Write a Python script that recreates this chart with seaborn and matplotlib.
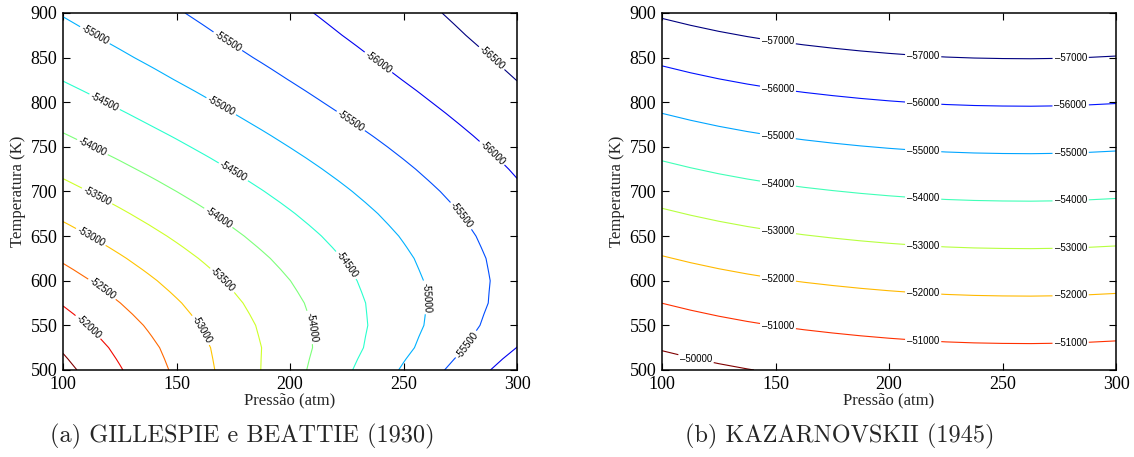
import numpy as np
import matplotlib
matplotlib.use("Agg")
import matplotlib.pyplot as plt
import seaborn as sns

# ---------------- data: (a) GILLESPIE e BEATTIE (1930) ----------------
pressure_gb = [100, 112.5, 125, 137.5, 150, 162.5, 175, 187.5, 200,
               212.5, 225, 237.5, 250, 262.5, 275, 287.5, 300]
temp_gb = [500, 512.5, 525, 537.5, 550, 562.5, 575, 587.5, 600, 612.5, 625, 637.5,
           650, 662.5, 675, 687.5, 700, 712.5, 725, 737.5, 750, 762.5, 775, 787.5,
           800, 812.5, 825, 837.5, 850, 862.5, 875, 887.5, 900]
dh_gb = [
    [-51349, -51657, -51966, -52275, -52584, -52893, -53201, -53510, -53819, -54128, -54437, -54745, -55054, -55363, -55672, -55981, -56289],
    [-51451, -51744, -52038, -52332, -52625, -52919, -53212, -53506, -53800, -54093, -54387, -54680, -54974, -55268, -55561, -55855, -56148],
    [-51552, -51831, -52109, -52388, -52666, -52945, -53223, -53501, -53780, -54058, -54337, -54615, -54893, -55172, -55450, -55729, -56007],
    [-51668, -51934, -52199, -52465, -52731, -52997, -53262, -53528, -53794, -54059, -54325, -54591, -54856, -55122, -55388, -55654, -55919],
    [-51783, -52036, -52289, -52542, -52795, -53048, -53301, -53554, -53807, -54060, -54313, -54566, -54819, -55072, -55325, -55578, -55831],
    [-51908, -52150, -52392, -52634, -52877, -53119, -53361, -53603, -53846, -54088, -54330, -54572, -54814, -55057, -55299, -55541, -55783],
    [-52032, -52263, -52495, -52726, -52958, -53189, -53421, -53652, -53884, -54115, -54347, -54578, -54809, -55041, -55272, -55504, -55735],
    [-52162, -52384, -52607, -52829, -53052, -53274, -53496, -53718, -53941, -54163, -54385, -54607, -54830, -55052, -55274, -55497, -55719],
    [-52292, -52505, -52719, -52932, -53145, -53358, -53571, -53784, -53997, -54210, -54423, -54636, -54850, -55063, -55276, -55489, -55702],
    [-52426, -52631, -52836, -53042, -53247, -53452, -53657, -53862, -54067, -54273, -54478, -54683, -54889, -55094, -55299, -55504, -55709],
    [-52559, -52756, -52953, -53151, -53348, -53545, -53743, -53940, -54137, -54335, -54532, -54729, -54927, -55124, -55321, -55519, -55716],
    [-52693, -52883, -53074, -53265, -53455, -53645, -53836, -54027, -54217, -54408, -54598, -54789, -54979, -55170, -55360, -55551, -55741],
    [-52827, -53010, -53194, -53378, -53562, -53745, -53929, -54113, -54296, -54480, -54664, -54848, -55031, -55215, -55399, -55582, -55766],
    [-52960, -53138, -53316, -53494, -53671, -53849, -54027, -54205, -54382, -54560, -54738, -54916, -55093, -55271, -55449, -55626, -55804],
    [-53093, -53265, -53437, -53609, -53780, -53952, -54124, -54296, -54468, -54640, -54811, -54983, -55155, -55327, -55499, -55670, -55842],
    [-53224, -53391, -53557, -53724, -53890, -54057, -54224, -54390, -54557, -54724, -54890, -55057, -55223, -55390, -55557, -55723, -55890],
    [-53354, -53516, -53677, -53839, -54000, -54162, -54323, -54484, -54646, -54807, -54969, -55130, -55291, -55453, -55614, -55776, -55937],
    [-53481, -53639, -53795, -53952, -54109, -54266, -54423, -54579, -54736, -54893, -55050, -55207, -55363, -55521, -55677, -55834, -55991],
    [-53608, -53761, -53913, -54065, -54217, -54370, -54522, -54674, -54826, -54979, -55131, -55283, -55435, -55588, -55740, -55892, -56045],
    [-53731, -53879, -54027, -54175, -54323, -54472, -54620, -54768, -54916, -55065, -55213, -55361, -55509, -55658, -55806, -55954, -56102],
    [-53853, -53997, -54141, -54285, -54429, -54574, -54718, -54862, -55006, -55150, -55294, -55438, -55582, -55727, -55871, -56015, -56159],
    [-53970, -54110, -54251, -54391, -54532, -54672, -54813, -54953, -55094, -55234, -55375, -55515, -55656, -55797, -55937, -56077, -56218],
    [-54086, -54223, -54360, -54497, -54634, -54770, -54907, -55044, -55181, -55318, -55455, -55592, -55729, -55866, -56003, -56139, -56276],
    [-54196, -54330, -54464, -54597, -54731, -54864, -54998, -55132, -55265, -55399, -55533, -55667, -55800, -55934, -56068, -56201, -56335],
    [-54306, -54436, -54567, -54697, -54828, -54958, -55089, -55219, -55349, -55480, -55610, -55741, -55871, -56002, -56132, -56262, -56393],
    [-54409, -54536, -54664, -54791, -54919, -55046, -55174, -55302, -55429, -55557, -55684, -55812, -55939, -56067, -56194, -56322, -56449],
    [-54511, -54636, -54760, -54885, -55010, -55134, -55259, -55384, -55508, -55633, -55757, -55882, -56007, -56131, -56256, -56381, -56505],
    [-54606, -54728, -54850, -54972, -55094, -55216, -55338, -55460, -55582, -55704, -55826, -55948, -56070, -56192, -56314, -56436, -56558],
    [-54701, -54820, -54939, -55059, -55178, -55297, -55417, -55536, -55656, -55775, -55894, -56014, -56133, -56253, -56372, -56491, -56611],
    [-54787, -54904, -55021, -55138, -55255, -55372, -55489, -55606, -55723, -55840, -55957, -56074, -56191, -56308, -56425, -56542, -56659],
    [-54873, -54987, -55102, -55216, -55331, -55446, -55560, -55675, -55790, -55904, -56019, -56134, -56248, -56363, -56478, -56592, -56707],
    [-54950, -55062, -55175, -55287, -55399, -55512, -55624, -55737, -55850, -55962, -56075, -56187, -56299, -56412, -56525, -56637, -56750],
    [-55026, -55136, -55247, -55357, -55467, -55578, -55688, -55799, -55909, -56019, -56130, -56240, -56350, -56461, -56571, -56681, -56792],
]
levels_gb = [-56500, -56000, -55500, -55000, -54500, -54000, -53500, -53000, -52500, -52000, -51500]

# ---------------- data: (b) KAZARNOVSKII (1945) ----------------
pressure_kz = [100, 112.5, 125, 137.5, 150, 162.5, 175, 187.5, 200,
               212.5, 225, 237.5, 250, 262.5, 275, 287.5, 300]
temp_kz = [500, 550, 600, 650, 700, 750, 800, 850, 900]
dh_kz = [
    [-49594, -49739, -49867, -49977, -50073, -50152, -50220, -50280, -50331, -50374, -50408, -50429, -50440, -50444, -50436, -50417, -50387],
    [-50534, -50679, -50807, -50917, -51013, -51092, -51160, -51220, -51271, -51314, -51348, -51369, -51380, -51384, -51376, -51357, -51327],
    [-51474, -51619, -51747, -51857, -51953, -52032, -52100, -52160, -52211, -52254, -52288, -52309, -52320, -52324, -52316, -52297, -52267],
    [-52414, -52559, -52687, -52797, -52893, -52972, -53040, -53100, -53151, -53194, -53228, -53249, -53260, -53264, -53256, -53237, -53207],
    [-53354, -53499, -53627, -53737, -53833, -53912, -53980, -54040, -54091, -54134, -54168, -54189, -54200, -54204, -54196, -54177, -54147],
    [-54294, -54439, -54567, -54677, -54773, -54852, -54920, -54980, -55031, -55074, -55108, -55129, -55140, -55144, -55136, -55117, -55087],
    [-55234, -55379, -55507, -55617, -55713, -55792, -55860, -55920, -55971, -56014, -56048, -56069, -56080, -56084, -56076, -56057, -56027],
    [-56174, -56319, -56447, -56557, -56653, -56732, -56800, -56860, -56911, -56954, -56988, -57009, -57020, -57024, -57016, -56997, -56967],
    [-57114, -57259, -57387, -57497, -57593, -57672, -57740, -57800, -57851, -57894, -57928, -57949, -57960, -57964, -57956, -57937, -57907],
]
levels_kz = [-57000, -56000, -55000, -54000, -53000, -52000, -51000, -50000]

# label anchor points (P, T) near which contour labels are placed
label_pos_gb = [
    (114, 875), (170, 797), (259, 581),
    (173, 870), (227, 780), (276, 674), (278, 528),
    (239, 845), (289, 743),
    (289, 850),
    (118, 799), (175, 722), (225, 618),
    (113, 750), (168, 669), (209, 548),
    (115, 695), (170, 600),
    (112, 648), (161, 545),
    (117, 590),
    (111, 548),
]
label_pos_kz = []
for T1, T2, T3 in [(868, 851, 850), (814, 798, 796), (762, 745, 742), (708, 692, 689),
                   (654, 638, 636), (601, 585, 582), (548, 532, 529)]:
    label_pos_kz += [(151, T1), (215, T2), (280, T3)]
label_pos_kz.append((115, 513))

xticks = [100, 150, 200, 250, 300]
yticks = [500, 550, 600, 650, 700, 750, 800, 850, 900]
xlabel = "Pressão (atm)"
ylabel = "Temperatura (K)"
captions = ["(a) GILLESPIE e BEATTIE (1930)", "(b) KAZARNOVSKII (1945)"]

# ---------------- plotting ----------------
sns.set_theme(style="white")
plt.rcParams["font.family"] = ["Liberation Sans", "DejaVu Sans"]
jet = matplotlib.colormaps["jet"]

fig = plt.figure(figsize=(11.34, 4.57), dpi=100)
axL = fig.add_axes([0.0556, 0.1904, 0.4004, 0.7812])
axR = fig.add_axes([0.5838, 0.1904, 0.4004, 0.7812])

serif = "Liberation Serif"


def style_axes(ax):
    ax.set_xlim(100, 300)
    ax.set_ylim(500, 900)
    ax.set_xticks(xticks)
    ax.set_yticks(yticks)
    ax.tick_params(direction="in", top=True, right=True, bottom=True, left=True,
                   length=5, width=0.8, labelsize=13, colors="black", pad=4)
    for lab in ax.get_xticklabels() + ax.get_yticklabels():
        lab.set_fontfamily(serif)
    for sp in ax.spines.values():
        sp.set_color("black")
        sp.set_linewidth(1.1)
    ax.set_xlabel(xlabel, fontfamily=serif, fontsize=12, labelpad=0)
    ax.set_ylabel(ylabel, fontfamily=serif, fontsize=12, labelpad=3)


# left
csL = axL.contour(pressure_gb, temp_gb, np.array(dh_gb), levels=levels_gb,
                  cmap=jet, linewidths=0.8)
labsL = axL.clabel(csL, manual=label_pos_gb, fmt="%1.0f", fontsize=7,
                   inline=True, inline_spacing=2, colors="black")
style_axes(axL)

# right
csR = axR.contour(pressure_kz, temp_kz, np.array(dh_kz), levels=levels_kz,
                  cmap=jet, linewidths=0.8)
labsR = axR.clabel(csR, manual=label_pos_kz, fmt=lambda v: "\u2013%d" % abs(v),
                   fontsize=7, inline=True, inline_spacing=2, colors="black")
for t in labsR:
    t.set_rotation(0)
style_axes(axR)

fig.text(0.2134, 0.044, captions[0], ha="center", va="center",
         fontfamily="cmr10", fontsize=17.5)
fig.text(0.7407, 0.044, captions[1], ha="center", va="center",
         fontfamily="cmr10", fontsize=17.5)

fig.savefig("out.png", dpi=100)
